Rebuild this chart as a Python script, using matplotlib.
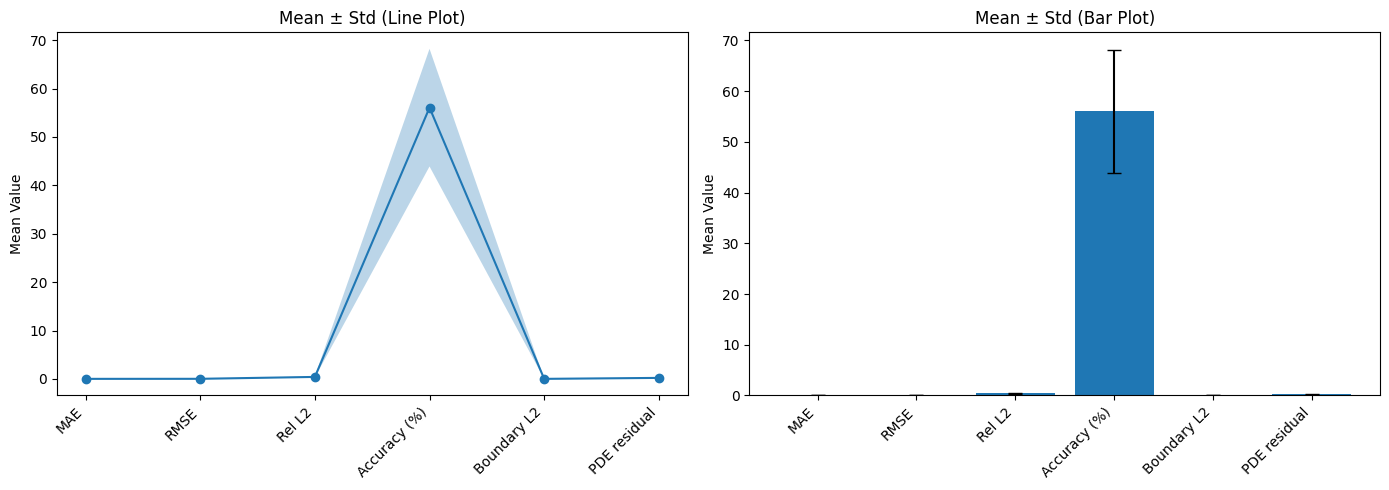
import matplotlib
matplotlib.use("Agg")
import matplotlib.pyplot as plt
import numpy as np

metrics = ["MAE", "RMSE", "Rel L2", "Accuracy (%)", "Boundary L2", "PDE residual"]
means = [0.02, 0.03, 0.42, 56.05, 0.02, 0.22]
stds = [0.01, 0.015, 0.12, 12.15, 0.01, 0.06]

means_a = np.array(means)
stds_a = np.array(stds)
x = np.arange(len(metrics))

fig, axes = plt.subplots(1, 2, figsize=(14, 5), dpi=100)

ax = axes[0]
ax.plot(x, means_a, marker="o")
ax.fill_between(x, means_a - stds_a, means_a + stds_a, alpha=0.3)
ax.set_xticks(x)
ax.set_xticklabels(metrics, rotation=45, ha="right")
ax.set_ylabel("Mean Value")
ax.set_title("Mean ± Std (Line Plot)")

ax = axes[1]
ax.bar(x, means_a, yerr=stds_a, capsize=5)
ax.set_xticks(x)
ax.set_xticklabels(metrics, rotation=45, ha="right")
ax.set_ylabel("Mean Value")
ax.set_title("Mean ± Std (Bar Plot)")

fig.tight_layout()
fig.savefig("out.png", dpi=100, bbox_inches="tight")
